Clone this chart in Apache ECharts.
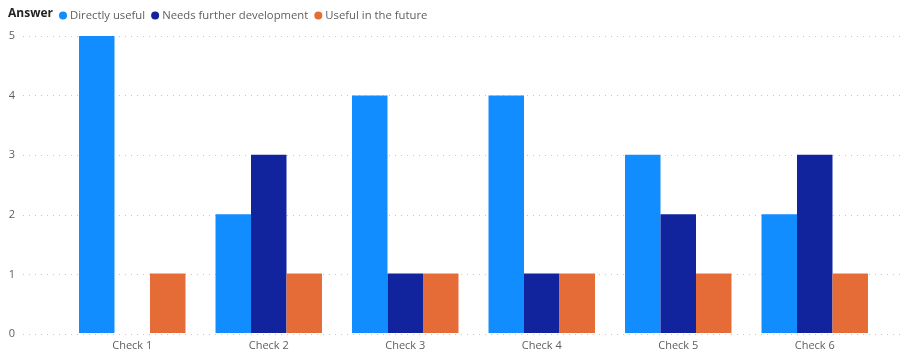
<!DOCTYPE html>
<html>
<head>
<meta charset="utf-8">
<script src="https://cdn.jsdelivr.net/npm/echarts@6/dist/echarts.min.js"></script>
<style>
  html, body { margin: 0; padding: 0; background: #fff; }
  #chart { width: 901px; height: 351px; }
</style>
</head>
<body>
<div id="chart"></div>
<script>
// Survey answers per check
const categories = ['Check 1', 'Check 2', 'Check 3', 'Check 4', 'Check 5', 'Check 6'];
const seriesNames = ['Directly useful', 'Needs further development', 'Useful in the future'];
const directlyUseful = [5, 2, 4, 4, 3, 2];
const needsFurtherDevelopment = [0, 3, 1, 1, 2, 3];
const usefulInFuture = [1, 1, 1, 1, 1, 1];
const colors = ['#118DFF', '#12239E', '#E66C37'];
const yMax = 5;

const font = '"Segoe UI", "Open Sans", "DejaVu Sans", sans-serif';
const chart = echarts.init(document.getElementById('chart'), null, { renderer: 'canvas' });

const values = [directlyUseful, needsFurtherDevelopment, usefulInFuture];

chart.setOption({
  animation: false,
  color: colors,
  textStyle: { fontFamily: font },
  graphic: [{
    type: 'text',
    left: 8,
    top: 8,
    style: { text: 'Answer', font: 'bold 12px ' + font, fill: '#252423' }
  }],
  legend: {
    left: 54,
    top: 5,
    icon: 'circle',
    itemWidth: 8,
    itemHeight: 8,
    itemGap: 6,
    textStyle: { color: '#605E5C', fontSize: 11.3, fontFamily: font, padding: [0, 0, 0, -2] },
    data: seriesNames
  },
  grid: [
    { left: 64, right: 18, top: 36, bottom: 17 },
    { left: 23, right: 0, top: 36, bottom: 17 }
  ],
  xAxis: [
    {
      type: 'category',
      gridIndex: 0,
      data: categories,
      axisLine: { show: false },
      axisTick: { show: false },
      axisLabel: { color: '#605E5C', fontSize: 11, margin: 7, fontFamily: font }
    },
    {
      type: 'category',
      gridIndex: 1,
      data: categories,
      show: false
    }
  ],
  yAxis: [
    {
      type: 'value',
      gridIndex: 0,
      min: 0, max: yMax, interval: 1,
      axisLabel: { show: false },
      axisLine: { show: false },
      axisTick: { show: false },
      splitLine: { show: false }
    },
    {
      type: 'value',
      gridIndex: 1,
      min: 0, max: yMax, interval: 1,
      axisLine: { show: false },
      axisTick: { show: false },
      axisLabel: { color: '#605E5C', fontSize: 11, margin: 8, fontFamily: font },
      splitLine: { show: true, lineStyle: { color: '#C8C6C4', type: [1, 5], width: 1 } }
    }
  ],
  series: seriesNames.map((name, i) => ({
    name: name,
    type: 'bar',
    xAxisIndex: 0,
    yAxisIndex: 0,
    data: values[i],
    barGap: '0%',
    barCategoryGap: '22%',
    itemStyle: { color: colors[i] }
  }))
});
</script>
</body>
</html>
